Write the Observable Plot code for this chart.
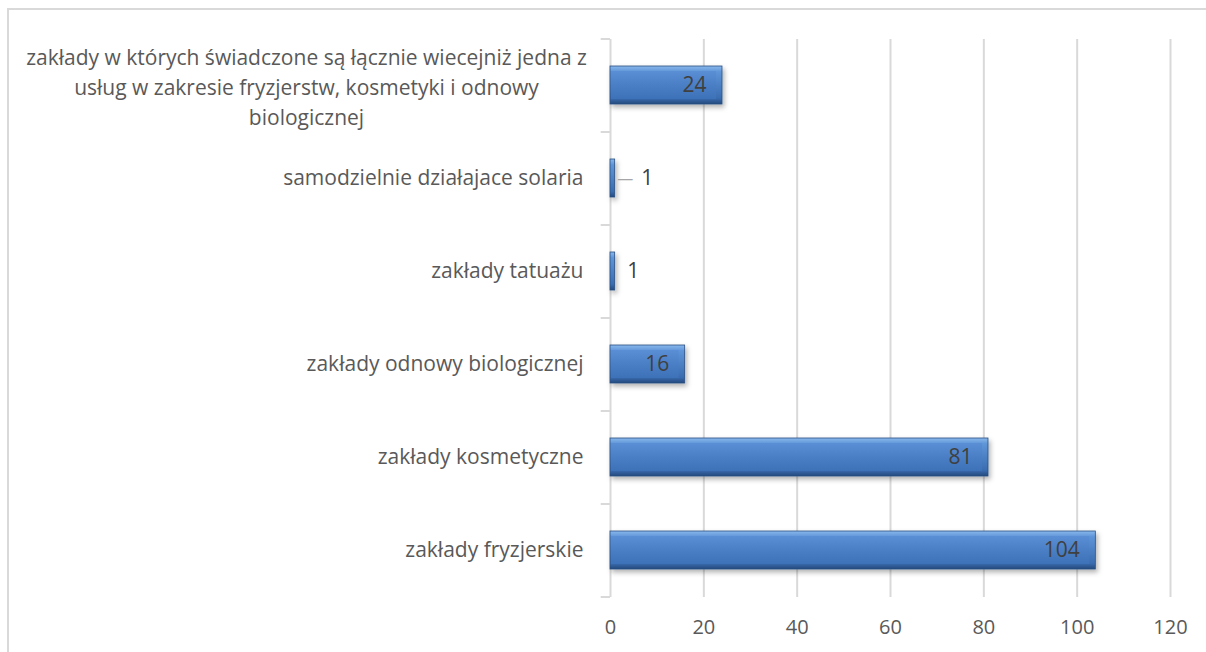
<!DOCTYPE html>
<html>
<head>
<meta charset="utf-8">
<script src="https://cdn.jsdelivr.net/npm/d3@7"></script>
<script src="https://cdn.jsdelivr.net/npm/@observablehq/plot@0.6"></script>
<style>
  html, body { margin: 0; padding: 0; background: #fff; overflow: hidden; }
  #wrap { position: relative; width: 1206px; height: 652px; }
  #frame { position: absolute; left: 7px; top: 8px; width: 1220px; height: 670px; border: 2px solid #d9d9d9; box-sizing: border-box; }
  #chart { position: absolute; left: 0; top: 0; }
</style>
</head>
<body>
<div id="wrap"><div id="frame"></div><div id="chart"></div></div>
<script>
const categories = [
  "zakłady w których świadczone są łącznie wiecejniż jedna z\nusług w zakresie fryzjerstw, kosmetyki i odnowy\nbiologicznej",
  "samodzielnie działajace solaria",
  "zakłady tatuażu",
  "zakłady odnowy biologicznej",
  "zakłady kosmetyczne",
  "zakłady fryzjerskie"
];
const values = [24, 1, 1, 16, 81, 104];
const xTicks = [0, 20, 40, 60, 80, 100, 120];
const leaderCategories = ["samodzielnie działajace solaria"];

const data = categories.map((c, i) => ({category: c, value: values[i]}));
const multi = data.filter(d => d.category.includes("\n"));
const single = data.filter(d => !d.category.includes("\n"));
const inside = data.filter(d => d.value >= 5);
const outsidePlain = data.filter(d => d.value < 5 && !leaderCategories.includes(d.category));
const outsideLeader = data.filter(d => d.value < 5 && leaderCategories.includes(d.category));

const font = "'Open Sans', 'DejaVu Sans', sans-serif";

const chart = Plot.plot({
  width: 1206,
  height: 652,
  marginLeft: 610,
  marginRight: 36,
  marginTop: 39,
  marginBottom: 55,
  style: {fontFamily: font, background: "transparent", overflow: "visible"},
  x: {domain: [0, 120], ticks: xTicks, grid: false, label: null},
  y: {domain: categories, paddingInner: 0.59, paddingOuter: 0.295, align: 0.5, label: null},
  marks: [
    Plot.ruleX(xTicks, {stroke: "#d9d9d9", strokeWidth: 2}),
    // category separators (axis ticks)
    Plot.ruleY(categories, {y: d => d, x1: -2, x2: 0, dy: -46.5, stroke: "#d9d9d9", strokeWidth: 2}),
    Plot.ruleY(categories.slice(-1), {y: d => d, x1: -2, x2: 0, dy: 46.5, stroke: "#d9d9d9", strokeWidth: 2}),
    // bars: outer bevel + inner face
    Plot.barX(data, {y: "category", x: "value", fill: "url(#bevelGrad)", stroke: "#2c4f82", strokeWidth: 0.8}),
    Plot.barX(inside, {y: "category", x: "value", fill: "url(#faceGrad)", insetTop: 5, insetBottom: 5, insetLeft: 1, insetRight: 6}),
    // value labels
    Plot.text(inside, {y: "category", x: "value", text: d => String(d.value), textAnchor: "end", dx: -16, fill: "#404040", fontSize: 21}),
    Plot.text(outsidePlain, {y: "category", x: "value", text: d => String(d.value), textAnchor: "start", dx: 12, fill: "#404040", fontSize: 21}),
    Plot.text(outsideLeader, {y: "category", x: "value", text: d => String(d.value), textAnchor: "start", dx: 26, fill: "#404040", fontSize: 21}),
    Plot.text(outsideLeader, {y: "category", x: "value", text: () => "—", textAnchor: "start", dx: 2, fill: "#a6a6a6", fontSize: 16}),
    // category labels
    Plot.text(single, {y: "category", x: 0, text: "category", textAnchor: "end", dx: -27, fill: "#595959", fontSize: 21}),
    Plot.text(multi, {y: "category", x: 0, text: "category", textAnchor: "middle", dx: -304, lineHeight: 1.42, fill: "#595959", fontSize: 21}),
    Plot.axisX({ticks: xTicks, tickSize: 0, tickPadding: 22, fontSize: 20, fill: "#595959", label: null}),
    Plot.axisY({ticks: [], label: null, tickSize: 0})
  ]
});

const defs = document.createElementNS("http://www.w3.org/2000/svg", "defs");
defs.innerHTML = `
  <linearGradient id="bevelGrad" x1="0" y1="0" x2="0" y2="1">
    <stop offset="0" stop-color="#8ab8ec"/>
    <stop offset="0.15" stop-color="#5e95d8"/>
    <stop offset="0.85" stop-color="#3a6cb0"/>
    <stop offset="1" stop-color="#244a7c"/>
  </linearGradient>
  <linearGradient id="faceGrad" x1="0" y1="0" x2="0" y2="1">
    <stop offset="0" stop-color="#5a8fd5"/>
    <stop offset="0.5" stop-color="#4a7fc6"/>
    <stop offset="1" stop-color="#3d71b8"/>
  </linearGradient>
  <filter id="shadow" x="-5%" y="-20%" width="115%" height="160%">
    <feDropShadow dx="2" dy="3" stdDeviation="2.5" flood-color="#000" flood-opacity="0.3"/>
  </filter>`;
chart.insertBefore(defs, chart.firstChild);
const barGroups = chart.querySelectorAll("g[aria-label='bar']");
if (barGroups.length) barGroups[0].setAttribute("filter", "url(#shadow)");
document.getElementById("chart").appendChild(chart);
</script>
</body>
</html>
